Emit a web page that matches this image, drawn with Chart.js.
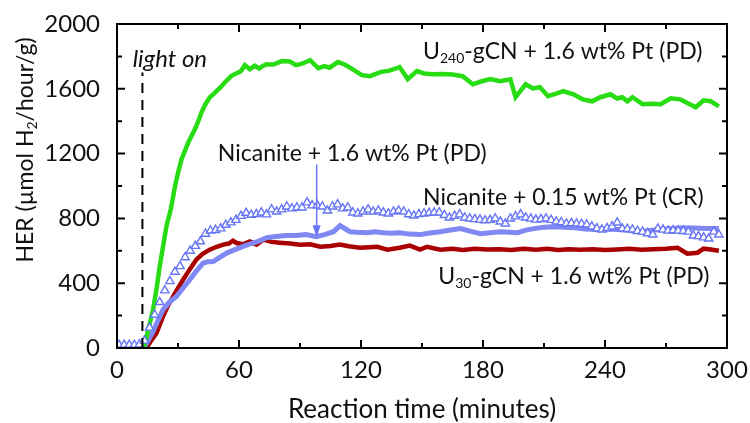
<!DOCTYPE html>
<html>
<head>
  <title>HER vs reaction time</title>
  <meta charset="UTF-8">
  <script src="https://cdn.jsdelivr.net/npm/chart.js"></script>
  <style>
    html, body { margin: 0; padding: 0; background: #fff; }
  </style>
</head>
<body>
  <canvas id="herChart" width="750" height="423"></canvas>

  <script>
    // axis ticks
    const xTicks = [0, 60, 120, 180, 240, 300];
    const xMinor = [30, 90, 150, 210, 270];
    const yTicks = [0, 400, 800, 1200, 1600, 2000];
    const yMinor = [200, 600, 1000, 1400, 1800];

    // U240-gCN + 1.6 wt% Pt (PD)
    const greenTime = [12.7,13.6,15.5,17.7,19.5,21,22.7,24.3,26.5,28.4,30,31.7,33.5,35,36.7,38.3,40,41.5,43.5,45.6,47.3,49,51,53,56.3,59.6,61,62.9,65.3,67.8,70,71.5,73.6,77,81,85,88,91,95,99,102,104.5,108.7,112,116,120.4,124.5,129.5,134,139,143,147.5,151,155.5,160,165,170,175,179,183.6,188.5,193.5,196,201,204.5,208,212,216,219.5,224.5,229,233.7,237.7,242.7,246,248.5,251,253.5,258.5,263,267.4,272.3,277,280,284.6,288.5,292,296];
    const greenHER = [0,20,120,235,370,503,630,751,860,990,1080,1164,1220,1267,1310,1350,1400,1453,1505,1546,1565,1587,1610,1639,1680,1701,1710,1746,1721,1742,1725,1740,1752,1750,1771,1768,1746,1755,1777,1727,1740,1730,1765,1750,1720,1684,1678,1703,1712,1734,1660,1709,1695,1690,1692,1688,1678,1628,1645,1660,1647,1659,1548,1628,1602,1610,1554,1570,1585,1566,1535,1523,1548,1566,1540,1548,1523,1548,1505,1508,1505,1541,1535,1515,1486,1529,1523,1492];

    // U30-gCN + 1.6 wt% Pt (PD)
    const redTime = [14.5,16.5,19.4,22.6,25,27.6,30,32.5,36,39,42,45.6,49,52.2,55,57,58.8,62,65.3,68.6,72,76,80,85,90,95,100,105,109.6,114,119.5,124,128,133,139,144,149,152.5,159,165,170,176,182,188,194,200,206,211.7,217,222,228,234,240,246,252,258,264,270,275.7,280.5,285.5,288.5,292,296];
    const redHER = [0,40,91,194,260,318,370,421,490,545,580,607,625,638,645,662,648,640,658,638,669,655,650,645,638,640,625,630,638,628,619,622,625,607,619,632,607,625,607,612,605,612,608,610,605,612,607,613,605,610,606,610,605,608,612,607,610,612,619,582,588,613,608,600];

    // Nicanite + 1.6 wt% Pt (PD)
    const blueTime = [13,15.5,17.7,20,22.6,25.5,29.2,32.5,35.8,39,42.3,44.5,47.3,50.5,53.9,58,62,66,69.4,73.6,78,83.3,88,93,98,102,106.5,109.7,114.6,118,123,127,131,135,139,144,149,154,159,164,169,174,178.7,183.5,188.5,193,197,201,205,210,215,220,224.5,230,236,241,246,252,257.4,262,267.4,273,278.6,284,290.3,296];
    const blueHER = [0,50,101,165,235,280,318,370,421,475,524,532,534,560,586,607,627,645,658,681,688,694,695,700,687,700,718,755,718,715,712,718,712,708,712,703,700,710,718,728,737,720,706,712,718,715,712,728,737,745,749,745,743,735,731,735,731,725,718,725,731,738,743,740,737,737];

    // Nicanite + 0.15 wt% Pt (CR), open triangles
    const crTime = [
      1, 3.5, 6, 8.5, 11, 13.5, 16, 18.5, 21, 23.5,
      26, 28.5, 31, 33.5, 36, 38.5, 41, 43.5, 46, 48.5,
      51, 53.5, 56, 58.5, 61, 63.5, 66, 68.5, 71, 73.5,
      76, 78.5, 81, 83.5, 86, 88.5, 91, 93.5, 96, 98.5,
      101, 103.5, 106, 108.5, 111, 113.5, 116, 118.5, 121, 123.5,
      126, 128.5, 131, 133.5, 136, 138.5, 141, 143.5, 146, 148.5,
      151, 153.5, 156, 158.5, 161, 163.5, 166, 168.5, 171, 173.5,
      176, 178.5, 181, 183.5, 186, 188.5, 191, 193.5, 196, 198.5,
      201, 203.5, 206, 208.5, 211, 213.5, 216, 218.5, 221, 223.5,
      226, 228.5, 231, 233.5, 236, 238.5, 241, 243.5, 246, 248.5,
      251, 253.5, 256, 258.5, 261, 263.5, 266, 268.5, 271, 273.5,
      276, 278.5, 281, 283.5, 286, 288.5, 291, 293.5, 296];
    const crHER = [
      19, 19, 19, 19, 22, 45, 125, 205, 283, 355,
      412, 470, 505, 560, 600, 630, 658, 705, 725, 728,
      738, 760, 775, 790, 815, 834, 822, 826, 836, 824,
      855, 842, 855, 873, 861, 867, 867, 898, 880, 880,
      873, 848, 873, 886, 861, 867, 836, 830, 842, 855,
      842, 848, 836, 830, 842, 848, 842, 825, 817, 826,
      830, 834, 836, 836, 820, 805, 815, 824, 805, 799,
      795, 792, 788, 790, 799, 780, 768, 799, 812, 824,
      805, 798, 792, 795, 799, 790, 780, 776, 768, 770,
      768, 765, 762, 750, 738, 731, 740, 750, 774, 737,
      735, 731, 722, 718, 708, 700, 737, 730, 724, 726,
      724, 722, 718, 694, 690, 682, 675, 718, 700];

    const lightOnTime = 12.5;
    const lightOnTop = 1700;

    const GREEN = '#27dc12';
    const RED = '#aa0000';
    const BLUE_LINE = '#8088f3';
    const BLUE_TRI = '#6675f5';
    const FONT = 'Lato';
    const SUB = 0.62;

    const pts = (xs, ys) => xs.map((x, i) => ({ x: x, y: ys[i] }));

    // text made of normal and subscript pieces, left aligned
    function richWidth(ctx, parts, size) {
      let w = 0;
      parts.forEach(([txt, sub]) => {
        ctx.font = (sub ? Math.round(size * SUB) : size) + 'px ' + FONT;
        w += ctx.measureText(txt).width;
      });
      return w;
    }
    function drawRich(ctx, parts, x, y, size) {
      let cx = x;
      parts.forEach(([txt, sub]) => {
        ctx.font = (sub ? Math.round(size * SUB) : size) + 'px ' + FONT;
        ctx.fillText(txt, cx, sub ? y + size * 0.3 : y);
        cx += ctx.measureText(txt).width;
      });
    }

    const decor = {
      id: 'decor',
      afterDatasetsDraw(chart) {
        const { ctx, chartArea: a, scales: { x, y } } = chart;
        ctx.save();

        // light on dashed marker
        ctx.strokeStyle = '#000';
        ctx.lineWidth = 2;
        ctx.setLineDash([10, 7]);
        ctx.beginPath();
        ctx.moveTo(x.getPixelForValue(lightOnTime), y.getPixelForValue(0));
        ctx.lineTo(x.getPixelForValue(lightOnTime), y.getPixelForValue(lightOnTop));
        ctx.stroke();
        ctx.setLineDash([]);

        // frame
        ctx.lineWidth = 2;
        ctx.strokeRect(a.left, a.top, a.right - a.left, a.bottom - a.top);

        // inward ticks on all four sides
        ctx.beginPath();
        const tickX = (v, len) => {
          const px = x.getPixelForValue(v);
          ctx.moveTo(px, a.bottom); ctx.lineTo(px, a.bottom - len);
          ctx.moveTo(px, a.top); ctx.lineTo(px, a.top + len);
        };
        const tickY = (v, len) => {
          const py = y.getPixelForValue(v);
          ctx.moveTo(a.left, py); ctx.lineTo(a.left + len, py);
          ctx.moveTo(a.right, py); ctx.lineTo(a.right - len, py);
        };
        xTicks.forEach(v => tickX(v, 8));
        xMinor.forEach(v => tickX(v, 5));
        yTicks.forEach(v => tickY(v, 8));
        yMinor.forEach(v => tickY(v, 5));
        ctx.stroke();

        // arrow for Nicanite + 1.6 wt% Pt (PD)
        const ax = x.getPixelForValue(98.2);
        const ay0 = y.getPixelForValue(1133);
        const ay1 = y.getPixelForValue(683);
        ctx.strokeStyle = BLUE_TRI;
        ctx.fillStyle = BLUE_TRI;
        ctx.lineWidth = 1.5;
        ctx.beginPath();
        ctx.moveTo(ax, ay0); ctx.lineTo(ax, ay1 - 10);
        ctx.stroke();
        ctx.beginPath();
        ctx.moveTo(ax - 4, ay1 - 12); ctx.lineTo(ax + 4, ay1 - 12); ctx.lineTo(ax, ay1);
        ctx.closePath();
        ctx.fill();

        // labels
        ctx.fillStyle = '#111';
        ctx.textBaseline = 'middle';
        ctx.textAlign = 'left';
        const lab = 23;
        drawRich(ctx, [['U', false], ['240', true], ['-gCN + 1.6 wt% Pt (PD)', false]],
          x.getPixelForValue(150.5), y.getPixelForValue(1827), lab);
        drawRich(ctx, [['Nicanite + 1.6 wt% Pt (PD)', false]],
          x.getPixelForValue(49.6), y.getPixelForValue(1201), lab);
        drawRich(ctx, [['Nicanite + 0.15 wt% Pt (CR)', false]],
          x.getPixelForValue(150.5), y.getPixelForValue(929), lab);
        drawRich(ctx, [['U', false], ['30', true], ['-gCN + 1.6 wt% Pt (PD)', false]],
          x.getPixelForValue(158), y.getPixelForValue(440), lab);

        ctx.font = 'italic 24px ' + FONT;
        ctx.fillText('light on', x.getPixelForValue(7.7), y.getPixelForValue(1783));

        // axis titles
        ctx.font = '26px ' + FONT;
        ctx.textAlign = 'center';
        ctx.fillText('Reaction time (minutes)', (a.left + a.right) / 2, 410);

        const yTitle = [['HER (\u00b5mol H', false], ['2', true], ['/hour/g)', false]];
        const w = richWidth(ctx, yTitle, 23);
        ctx.translate(26, 150);
        ctx.rotate(-Math.PI / 2);
        ctx.textAlign = 'left';
        drawRich(ctx, yTitle, -w / 2, 0, 23);

        ctx.restore();
      }
    };

    const ctx = document.getElementById('herChart').getContext('2d');
    const chart = new Chart(ctx, {
      type: 'line',
      data: {
        datasets: [
          {
            label: 'Nicanite + 0.15 wt% Pt (CR)',
            data: pts(crTime, crHER),
            showLine: false,
            pointStyle: 'triangle',
            pointRadius: 4.8,
            pointBorderWidth: 1.4,
            borderColor: BLUE_TRI,
            pointBorderColor: BLUE_TRI,
            pointBackgroundColor: '#fff'
          },
          {
            label: 'U240-gCN + 1.6 wt% Pt (PD)',
            data: pts(greenTime, greenHER),
            borderColor: GREEN,
            borderWidth: 4.5,
            pointRadius: 0,
            tension: 0
          },
          {
            label: 'Nicanite + 1.6 wt% Pt (PD)',
            data: pts(blueTime, blueHER),
            borderColor: BLUE_LINE,
            borderWidth: 5,
            pointRadius: 0,
            tension: 0
          },
          {
            label: 'U30-gCN + 1.6 wt% Pt (PD)',
            data: pts(redTime, redHER),
            borderColor: RED,
            borderWidth: 4.5,
            pointRadius: 0,
            tension: 0
          }
        ]
      },
      options: {
        responsive: false,
        animation: false,
        layout: { padding: { top: 24, right: 23, left: 0, bottom: 0 } },
        plugins: { legend: { display: false }, tooltip: { enabled: false } },
        scales: {
          x: {
            type: 'linear',
            min: 0, max: 300,
            grid: { display: false },
            border: { display: false },
            afterBuildTicks: s => { s.ticks = xTicks.map(v => ({ value: v })); },
            afterFit: s => { s.height = 75; s.paddingLeft = 0; s.paddingRight = 0; },
            ticks: {
              color: '#111', padding: 0, maxRotation: 0, autoSkip: false,
              font: { family: FONT, size: 24 },
              callback: v => String(v)
            }
          },
          y: {
            min: 0, max: 2000,
            grid: { display: false },
            border: { display: false },
            afterBuildTicks: s => { s.ticks = yTicks.map(v => ({ value: v })); },
            afterFit: s => { s.width = 117; s.paddingTop = 0; s.paddingBottom = 0; },
            ticks: {
              color: '#111', padding: 9, autoSkip: false,
              font: { family: FONT, size: 24 },
              callback: v => String(v)
            }
          }
        }
      },
      plugins: [decor]
    });
  </script>
</body>
</html>
